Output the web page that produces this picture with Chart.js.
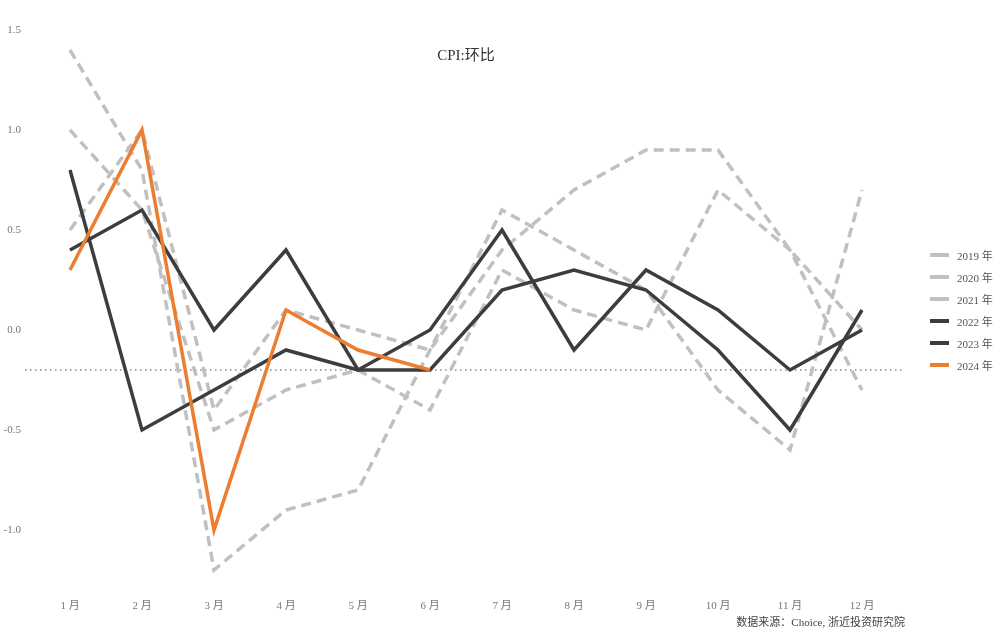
<!DOCTYPE html>
<html lang="zh">
<head>
  <meta charset="UTF-8">
  <title>CPI:环比</title>
  <script src="https://cdn.jsdelivr.net/npm/chart.js"></script>
  <style>
    html, body { margin: 0; padding: 0; background: #fff; }
    #wrap { position: relative; width: 1000px; height: 630px; }
    #legend {
      position: absolute; left: 930px; top: 244px;
      font-family: "Liberation Serif", "DejaVu Serif", "Noto Sans CJK SC", serif;
      font-size: 11px; color: #555;
    }
    .item { display: flex; align-items: center; height: 22px; }
    .swatch { width: 19px; height: 4px; margin-right: 8px; }
  </style>
</head>
<body>
  <div id="wrap">
    <canvas id="cpiChart" width="1000" height="630"></canvas>
    <div id="legend"></div>
  </div>

  <script>
    // 月份
    const months = ['1 月', '2 月', '3 月', '4 月', '5 月', '6 月', '7 月', '8 月', '9 月', '10 月', '11 月', '12 月'];

    // CPI 环比 (%)
    const cpi2019 = [0.5, 1.0, -0.4, 0.1, 0.0, -0.1, 0.4, 0.7, 0.9, 0.9, 0.4, 0.0];
    const cpi2020 = [1.4, 0.8, -1.2, -0.9, -0.8, -0.1, 0.6, 0.4, 0.2, -0.3, -0.6, 0.7];
    const cpi2021 = [1.0, 0.6, -0.5, -0.3, -0.2, -0.4, 0.3, 0.1, 0.0, 0.7, 0.4, -0.3];
    const cpi2022 = [0.4, 0.6, 0.0, 0.4, -0.2, 0.0, 0.5, -0.1, 0.3, 0.1, -0.2, 0.0];
    const cpi2023 = [0.8, -0.5, -0.3, -0.1, -0.2, -0.2, 0.2, 0.3, 0.2, -0.1, -0.5, 0.1];
    const cpi2024 = [0.3, 1.0, -1.0, 0.1, -0.1, -0.2];

    const years = ['2019 年', '2020 年', '2021 年', '2022 年', '2023 年', '2024 年'];
    const yTicks = [1.5, 1.0, 0.5, 0.0, -0.5, -1.0];
    const refLevel = -0.2; // 虚线参考位

    const titleText = 'CPI:环比';
    const sourceText = '数据来源：Choice, 浙近投资研究院';

    const GRAY = '#c0c0c0';
    const DARK = '#3d3d3d';
    const ORANGE = '#ed7d31';
    const FONT = '"Liberation Serif", "DejaVu Serif", "Noto Sans CJK SC", serif';

    function line(label, data, color, dashed, order) {
      return {
        label: label,
        data: data,
        borderColor: color,
        backgroundColor: color,
        borderWidth: 3.5,
        borderDash: dashed ? [10, 6] : [],
        borderJoinStyle: 'miter',
        pointRadius: 0,
        tension: 0,
        fill: false,
        order: order
      };
    }

    const datasets = [
      line(years[0], cpi2019, GRAY, true, 3),
      line(years[1], cpi2020, GRAY, true, 3),
      line(years[2], cpi2021, GRAY, true, 3),
      line(years[3], cpi2022, DARK, false, 2),
      line(years[4], cpi2023, DARK, false, 2),
      line(years[5], cpi2024, ORANGE, false, 1)
    ];

    // 参考虚线 + 标题 + 数据来源
    const extras = {
      id: 'extras',
      beforeDatasetsDraw(chart) {
        const ctx = chart.ctx;
        const y = chart.scales.y.getPixelForValue(refLevel);
        ctx.save();
        ctx.strokeStyle = '#888';
        ctx.lineWidth = 1.3;
        ctx.setLineDash([1.5, 3.5]);
        ctx.beginPath();
        ctx.moveTo(25, y);
        ctx.lineTo(905, y);
        ctx.stroke();
        ctx.restore();
      },
      afterDraw(chart) {
        const ctx = chart.ctx;
        const area = chart.chartArea;
        ctx.save();
        ctx.fillStyle = '#333';
        ctx.font = '15px ' + FONT;
        ctx.textAlign = 'center';
        ctx.textBaseline = 'middle';
        ctx.fillText(titleText, (area.left + area.right) / 2, 56);

        ctx.fillStyle = '#444';
        ctx.font = '11px ' + FONT;
        ctx.textAlign = 'right';
        ctx.fillText(sourceText, 905, 623);
        ctx.restore();
      }
    };

    const ctx = document.getElementById('cpiChart').getContext('2d');
    const cpiChart = new Chart(ctx, {
      type: 'line',
      data: { labels: months, datasets: datasets },
      plugins: [extras],
      options: {
        responsive: false,
        animation: false,
        devicePixelRatio: 1,
        layout: { padding: { left: 0, right: 138, top: 30, bottom: 0 } },
        plugins: {
          legend: { display: false },
          title: { display: false },
          tooltip: { enabled: false }
        },
        scales: {
          x: {
            offset: false,
            grid: { display: false, drawTicks: false },
            border: { display: false },
            ticks: { color: '#777', font: { family: FONT, size: 11 }, padding: 20, maxRotation: 0 },
            afterFit(scale) { scale.height = 50; }
          },
          y: {
            min: -1.25,
            max: 1.5,
            grid: { display: false, drawTicks: false },
            border: { display: false },
            ticks: {
              stepSize: 0.5,
              color: '#777',
              font: { family: FONT, size: 11 },
              padding: 49,
              callback: (v) => yTicks.some(t => Math.abs(t - v) < 1e-9) ? v.toFixed(1) : ''
            },
            afterFit(scale) {
              // 标签右对齐在 x≈21，去掉 padding 带来的上下留白
              scale.width = 70;
              scale.paddingTop = 6;
              scale.paddingBottom = 6;
            }
          }
        }
      }
    });

    // 图例
    const legendEl = document.getElementById('legend');
    datasets.forEach(ds => {
      const item = document.createElement('div');
      item.className = 'item';
      item.innerHTML = '<span class="swatch" style="background:' + ds.borderColor + '"></span>' + ds.label;
      legendEl.appendChild(item);
    });
  </script>
</body>
</html>
